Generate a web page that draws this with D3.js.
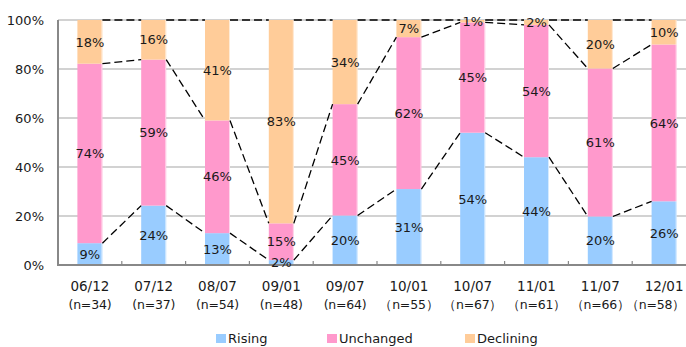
<!DOCTYPE html>
<html>
<head>
<meta charset="utf-8">
<script src="https://cdn.jsdelivr.net/npm/d3@7"></script>
<style>
  html, body { margin: 0; padding: 0; background: #fff; }
  svg { display: block; font-family: "DejaVu Sans", sans-serif; }
</style>
</head>
<body>
<svg id="chart" width="686" height="347"></svg>
<script>
// Survey periods and respondent counts
const periods = ["06/12", "07/12", "08/07", "09/01", "09/07", "10/01", "10/07", "11/01", "11/07", "12/01"];
const counts  = ["(n=34)", "(n=37)", "(n=54)", "(n=48)", "(n=64)", "（n=55）", "（n=67）", "（n=61）", "（n=66）", "（n=58）"];

// Share of responses (%) per period
const rising    = [9, 24, 13, 2, 20, 31, 54, 44, 20, 26];
const unchanged = [74, 59, 46, 15, 45, 62, 45, 54, 61, 64];
const declining = [18, 16, 41, 83, 34, 7, 1, 2, 20, 10];

const seriesNames  = ["Rising", "Unchanged", "Declining"];
const seriesColors = ["#99CCFF", "#FF99CC", "#FFCC99"];
const yTicks = [0, 0.2, 0.4, 0.6, 0.8, 1.0];

const rows = periods.map((p, i) => ({
  period: p, Rising: rising[i], Unchanged: unchanged[i], Declining: declining[i]
}));

const width = 686;
const svg = d3.select("#chart");
const plotLeft = 58, plotTop = 20, plotBottom = 265;
const plotRight = plotLeft + 638;

const x = d3.scaleBand().domain(periods).range([plotLeft, plotRight])
  .paddingInner(0.608).paddingOuter(0.304);
const y = d3.scaleLinear().domain([0, 1]).range([plotBottom, plotTop]);

// 100% stacking: each period normalised to its own total
const stacked = d3.stack().keys(seriesNames).offset(d3.stackOffsetExpand)(rows);

// gridlines
svg.append("g")
  .selectAll("line").data(yTicks.slice(1)).join("line")
  .attr("x1", plotLeft).attr("x2", plotRight)
  .attr("y1", d => y(d)).attr("y2", d => y(d))
  .attr("stroke", "#a6a6a6").attr("stroke-width", 1.2);

// y axis labels
const yAxis = d3.axisLeft(y).tickValues(yTicks).tickFormat(d3.format(".0%")).tickSize(0).tickPadding(14);
svg.append("g").attr("transform", `translate(${plotLeft},0)`).call(yAxis)
  .call(g => g.select(".domain").remove())
  .call(g => g.selectAll("text").attr("font-size", 13).attr("fill", "#1a1a1a")
    .attr("font-family", "DejaVu Sans, sans-serif"));

// bars
const layers = svg.append("g").selectAll("g").data(stacked).join("g")
  .attr("fill", (d, i) => seriesColors[i]);
layers.selectAll("rect").data(d => d).join("rect")
  .attr("x", d => x(d.data.period))
  .attr("width", x.bandwidth())
  .attr("y", d => y(d[1]))
  .attr("height", d => y(d[0]) - y(d[1]));

// thin light edge on the right side of each bar
svg.append("g").selectAll("line").data(periods).join("line")
  .attr("x1", d => x(d) + x.bandwidth() - 0.5).attr("x2", d => x(d) + x.bandwidth() - 0.5)
  .attr("y1", y(1)).attr("y2", y(0))
  .attr("stroke", "#fff").attr("stroke-opacity", 0.6).attr("stroke-width", 1);

// series lines linking segment tops between neighbouring bars
const seriesLines = svg.append("g").attr("fill", "none").attr("stroke", "#000")
  .attr("stroke-width", 1.3).attr("stroke-dasharray", "8,4");
stacked.forEach(layer => {
  for (let i = 0; i < layer.length - 1; i++) {
    seriesLines.append("line")
      .attr("x1", x(periods[i]) + x.bandwidth()).attr("y1", y(layer[i][1]))
      .attr("x2", x(periods[i + 1])).attr("y2", y(layer[i + 1][1]));
  }
});

// axes lines
svg.append("line").attr("x1", plotLeft).attr("x2", plotLeft).attr("y1", plotTop).attr("y2", plotBottom)
  .attr("stroke", "#888").attr("stroke-width", 2);
svg.append("line").attr("x1", plotLeft - 1).attr("x2", plotRight).attr("y1", plotBottom).attr("y2", plotBottom)
  .attr("stroke", "#888").attr("stroke-width", 2);
// category ticks
svg.append("g").selectAll("line").data(periods.slice(1)).join("line")
  .attr("x1", d => x(d) - x.step() * x.paddingInner() / 2)
  .attr("x2", d => x(d) - x.step() * x.paddingInner() / 2)
  .attr("y1", plotBottom).attr("y2", plotBottom - 4)
  .attr("stroke", "#888").attr("stroke-width", 1.2);

// value labels
const labels = svg.append("g").attr("font-size", 13).attr("fill", "#1a1a1a").attr("text-anchor", "middle");
const values = [rising, unchanged, declining];
stacked.forEach((layer, k) => {
  layer.forEach((d, i) => {
    labels.append("text")
      .attr("x", x(d.data.period) + x.bandwidth() / 2)
      .attr("y", (y(d[0]) + y(d[1])) / 2)
      .attr("dy", "0.36em")
      .text(values[k][i] + "%");
  });
});

// category labels
const cat = svg.append("g").attr("fill", "#1a1a1a").attr("text-anchor", "middle");
periods.forEach((p, i) => {
  const cx = x(p) + x.bandwidth() / 2;
  cat.append("text").attr("x", cx).attr("y", 291).attr("font-size", 13.5).text(p);
  const t = cat.append("text").attr("x", cx).attr("y", 309).attr("font-size", 12.5)
    .attr("letter-spacing", -0.2).text(counts[i]);
  // keep the whole label inside the drawing area
  const bb = t.node().getBBox();
  const overflow = bb.x + bb.width - (width - 1);
  if (overflow > 0) t.attr("x", cx - overflow);
});

// legend
const legendX = [216, 327, 465];
const legend = svg.append("g").attr("font-size", 13).attr("fill", "#1a1a1a");
seriesNames.forEach((s, i) => {
  legend.append("rect").attr("x", legendX[i]).attr("y", 334).attr("width", 10).attr("height", 9)
    .attr("fill", seriesColors[i]);
  legend.append("text").attr("x", legendX[i] + 12).attr("y", 343).text(s);
});
</script>
</body>
</html>
